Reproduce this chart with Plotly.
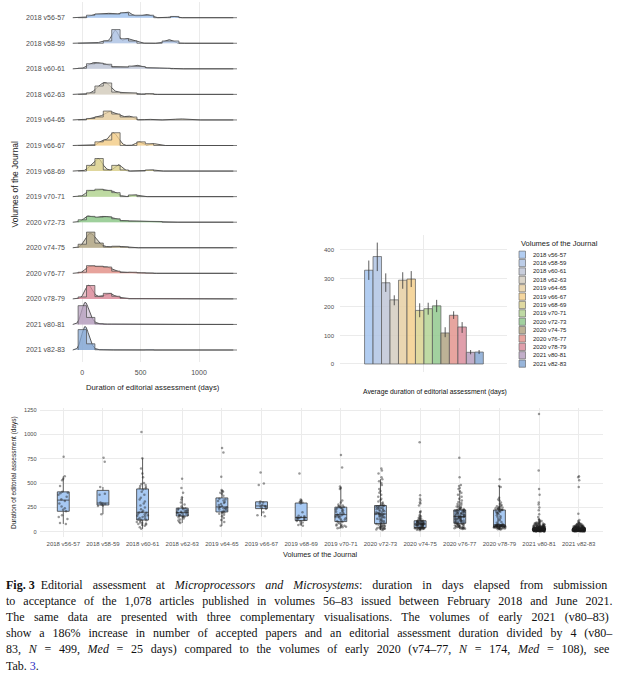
import numpy as np
import plotly.graph_objects as go

W, H = 620, 680

volumes = ["2018 v56-57", "2018 v58-59", "2018 v60-61", "2018 v62-63", "2019 v64-65",
           "2019 v66-67", "2019 v68-69", "2019 v70-71", "2020 v72-73", "2020 v74-75",
           "2020 v76-77", "2020 v78-79", "2021 v80-81", "2021 v82-83"]
colors = ["#a4c4ee", "#b0c4e4", "#bfc6d6", "#d4cdbf", "#e6cfa3", "#f3cf8d", "#dbd28f",
          "#b4d494", "#92c98e", "#b2a584", "#e3958e", "#db8e9c", "#b7a0bf", "#86a8d4"]

# durations of editorial assessment (days) per volume
d56 = [80, 90, 130, 150, 170, 210, 225, 240, 260, 290, 315, 335, 360, 380, 395, 400, 410, 470, 530, 545, 570, 772]
d58 = [180, 265, 270, 280, 285, 290, 300, 380, 390, 460, 720, 760]
d60 = [30, 45, 60, 70, 75, 80, 85, 90, 95, 100, 110, 118, 122, 128, 135, 140, 150, 160, 165, 170, 180, 185,
       192, 198, 202, 215, 230, 250, 270, 290, 310, 330, 350, 380, 410, 435, 445, 450, 460, 470, 480, 490,
       500, 560, 600, 650, 755, 1025]
d62 = [90, 100, 115, 125, 135, 145, 150, 155, 160, 163, 168, 172, 178, 182, 186, 190, 194, 197, 200, 205,
       210, 215, 220, 225, 230, 235, 240, 245, 260, 280, 300, 330, 355, 400, 450, 545]
d64 = [60, 100, 120, 140, 160, 175, 185, 192, 198, 205, 212, 220, 228, 235, 240, 244, 247, 250, 255, 265,
       275, 285, 295, 305, 315, 322, 330, 340, 370, 390, 400, 410, 420, 430, 565, 815, 860]
d66 = [160, 170, 200, 235, 245, 255, 260, 265, 275, 290, 300, 310, 480, 495, 610]
d68 = [60, 70, 80, 95, 105, 110, 120, 128, 132, 138, 142, 145, 147, 150, 160, 165, 200, 290, 300, 305,
       312, 320, 330, 600]
d70 = [35, 40, 45, 50, 55, 60, 65, 70, 75, 85, 95, 100, 108, 115, 122, 130, 138, 145, 150, 155, 160, 165,
       170, 173, 178, 185, 190, 198, 205, 212, 220, 228, 235, 240, 245, 250, 255, 260, 265, 270, 280, 300,
       320, 440, 450, 465, 660, 790]
d72 = [18, 22, 25, 28, 30, 32, 35, 38, 40, 43, 46, 50, 53, 56, 60, 64, 68, 72, 76, 80,
       86, 92, 98, 104, 110, 116, 122, 128, 134, 140, 146, 150, 155, 160, 165, 170, 174, 177, 179, 181,
       184, 188, 192, 196, 200, 205, 210, 215, 220, 225, 230, 235, 240, 245, 250, 254, 258, 261, 264, 267,
       272, 280, 290, 300, 310, 325, 340, 360, 380, 400, 420, 440, 480, 500, 520, 540, 560, 600, 630, 650]
d74 = [15, 20, 24, 27, 29, 31, 33, 34, 35, 36, 36, 37, 37, 38, 38, 39, 39,
       42, 46, 50, 54, 57, 60, 62, 64, 66, 68, 70, 72, 73, 74, 75, 76, 78, 79,
       80, 82, 84, 86, 88, 90, 92, 94, 96, 98, 100, 102, 104, 106, 108, 110, 111, 113,
       118, 125, 130, 135, 140, 150, 160, 170, 200, 210, 270, 290, 300, 320, 340, 375, 920]
d76 = [28, 30, 32, 34, 36, 38, 40, 42, 44, 46, 48, 50, 52, 55, 58, 60, 63, 66, 69, 72, 75, 78, 80, 83, 85,
       88, 92, 95, 98, 101, 104, 107, 110, 113, 116, 119, 122, 125, 128, 131, 134, 137, 140, 143, 146, 148,
       150, 152, 153, 154,
       157, 160, 163, 166, 169, 172, 175, 178, 181, 184, 187, 190, 193, 196, 199, 202, 205, 208, 211, 214,
       216, 218, 220, 221, 222,
       226, 230, 234, 238, 243, 248, 254, 260, 268, 276, 285, 295, 305, 320, 340, 360, 380, 400, 420, 440,
       450, 470, 480, 560, 760]
d78 = [22, 25, 28, 30, 32, 34, 36, 38, 39, 40, 41, 42, 43, 44, 45, 46, 47, 48, 49, 50, 51,
       53, 54, 55, 56, 57, 58, 59, 60, 61, 62, 63, 64, 65, 65, 66, 66, 67, 67, 68, 68, 69,
       72, 78, 85, 92, 100, 110, 120, 130, 140, 150, 160, 170, 180, 190, 195, 200, 205, 210, 215, 218, 222,
       225, 228, 231, 234, 237, 240, 244, 248, 252, 256, 262, 268, 275, 285, 300, 320, 330, 350, 460, 470, 540]
# dense groups given as value / number-of-articles tables
v80_vals = [2, 5, 8, 10, 12, 14, 16, 18, 20, 22, 24, 26, 28, 30, 32, 35, 38, 40, 44, 48, 52, 56, 60, 65, 70,
            75, 80, 85, 90, 95, 100, 110, 120, 130, 150, 180, 220, 250, 280, 300, 380, 440, 630, 1210]
v80_counts = [3, 6, 8, 10, 12, 14, 14, 14, 14, 13, 13, 12, 11, 10, 9, 9, 8, 7, 7, 6, 5, 5, 4, 4, 3,
              3, 3, 3, 2, 2, 2, 2, 2, 1, 1, 1, 1, 1, 1, 1, 1, 1, 1, 1]
v82_vals = [2, 5, 8, 10, 12, 14, 16, 18, 20, 22, 24, 26, 28, 30, 32, 35, 38, 40, 44, 48, 52, 56, 60, 65, 70,
            75, 80, 85, 90, 100, 110, 120, 185, 460, 530, 560, 570]
v82_counts = [3, 6, 9, 11, 12, 14, 15, 15, 15, 14, 13, 12, 11, 10, 9, 9, 8, 7, 6, 5, 5, 4, 4, 3, 3,
              2, 2, 2, 2, 1, 1, 1, 1, 1, 1, 1, 1]

# bar chart: average duration and interval ends (days)
bar_mean = [329, 377, 285, 225, 294, 298, 188, 194, 204, 109, 171, 130, 41, 42]
bar_low = [295, 326, 253, 206, 264, 270, 164, 173, 182, 94, 158, 109, 34, 35]
bar_high = [363, 426, 318, 241, 322, 326, 213, 215, 225, 129, 185, 147, 49, 49]

caption_prefix = ["<b>Fig. 3</b>&nbsp;&nbsp;", "", "", "", "", ""]
caption_lines = [
    "Editorial assessment at <i>Microprocessors and Microsystems</i>: duration in days elapsed from submission",
    "to acceptance of the 1,078 articles published in volumes 56–83 issued between February 2018 and June 2021.",
    "The same data are presented with three complementary visualisations. The volumes of early 2021 (v80–83)",
    "show a 186% increase in number of accepted papers and an editorial assessment duration divided by 4 (v80–",
    "83, <i>N</i> = 499, <i>Med</i> = 25 days) compared to the volumes of early 2020 (v74–77, <i>N</i> = 174, <i>Med</i> = 108), see",
    "Tab. <span style='color:#2b2bc4'>3</span>.",
]
caption_word_spacing = [7.05, 5.0, 6.25, 4.95, 4.7, 0]

# ---------------------------------------------------------------------------
samples = [np.array(d, float) for d in (d56, d58, d60, d62, d64, d66, d68, d70, d72, d74, d76, d78)]
samples.append(np.repeat(np.array(v80_vals, float), v80_counts))
samples.append(np.repeat(np.array(v82_vals, float), v82_counts))


def rgba(hexc, a):
    h = hexc.lstrip("#")
    return "rgba(%d,%d,%d,%.3f)" % (int(h[0:2], 16), int(h[2:4], 16), int(h[4:6], 16), a)


def px(x):
    return x / W


def py(y):
    return 1 - y / H


FONT = "Liberation Sans, Arial, sans-serif"
TICK = "#4d4d4d"
GRID = "#ebebeb"

fig = go.Figure()

# ---------------- ridgeline (densities + histograms) ----------------
allv = np.concatenate(samples)
sd = allv.std(ddof=1)
q75, q25 = np.percentile(allv, [75, 25])
bw = 0.9 * min(sd, (q75 - q25) / 1.34) * len(allv) ** -0.2
grid = np.linspace(allv.min() - 3 * bw, allv.max() + 3 * bw, 600)
binw = 72
edges = np.arange(-36, grid[-1] + binw, binw)


def kde(v):
    z = (grid[:, None] - v[None, :]) / bw
    return np.exp(-0.5 * z ** 2).sum(1) / (len(v) * bw * np.sqrt(2 * np.pi))


dens = [kde(s) for s in samples]
hists = [np.histogram(s, bins=edges)[0] / (len(s) * binw) for s in samples]
S = 0.92 / max(d.max() for d in dens)

n = len(volumes)
for k in range(n):
    base = n - 1 - k
    yd = base + dens[k] * S
    fig.add_trace(go.Scatter(
        x=np.concatenate([[grid[0]], grid, [grid[-1]]]),
        y=np.concatenate([[base], yd, [base]]),
        mode="lines", fill="toself", fillcolor=rgba(colors[k], 0.5),
        line=dict(color="#333333", width=0.8), hoverinfo="skip", showlegend=False,
        xaxis="x", yaxis="y"))
    xs, ys = [edges[0]], [base]
    for i, h in enumerate(hists[k]):
        xs += [edges[i], edges[i + 1]]
        ys += [base + h * S, base + h * S]
    xs.append(edges[-1])
    ys.append(base)
    fig.add_trace(go.Scatter(
        x=xs, y=ys, mode="lines", fill="toself", fillcolor=rgba(colors[k], 0.75),
        line=dict(color="#4a4a4a", width=0.7), hoverinfo="skip", showlegend=False,
        xaxis="x", yaxis="y"))

# ---------------- bar chart ----------------
bw_bar = 0.9 / n
bar_x = [1 + (k - (n - 1) / 2) * bw_bar for k in range(n)]
fig.add_trace(go.Bar(
    x=bar_x, y=bar_mean, width=bw_bar,
    marker=dict(color=[rgba(c, 0.85) for c in colors], line=dict(color="#5a5a5a", width=0.7)),
    error_y=dict(type="data", symmetric=False,
                 array=[h - m for h, m in zip(bar_high, bar_mean)],
                 arrayminus=[m - l for m, l in zip(bar_mean, bar_low)],
                 color="#333333", thickness=0.8, width=0),
    hoverinfo="skip", showlegend=False, xaxis="x2", yaxis="y2"))

# ---------------- box plot with points ----------------
fig.add_trace(go.Box(
    x=np.repeat(volumes, [len(s) for s in samples]), y=allv,
    boxpoints="all", jitter=1.0, pointpos=0, width=0.3, whiskerwidth=0,
    fillcolor="rgba(160,196,242,0.92)", line=dict(color="#3a3a3a", width=0.8),
    marker=dict(size=2.5, color="rgba(30,30,30,0.45)"),
    hoverinfo="skip", showlegend=False, xaxis="x3", yaxis="y3"))

# ---------------- axes ----------------
ridge_px_per_day = 0.1167
fig.update_layout(
    width=W, height=H, margin=dict(l=0, r=0, t=0, b=0),
    paper_bgcolor="white", plot_bgcolor="white", showlegend=False,
    font=dict(family=FONT, color="#222"),
    xaxis=dict(domain=[px(70), px(237)], range=[(70 - 82.3) / ridge_px_per_day, (237 - 82.3) / ridge_px_per_day],
               tickvals=[0, 500, 1000], showgrid=True, gridcolor=GRID, gridwidth=0.8, zeroline=False,
               showline=False, ticks="", tickfont=dict(size=7, color=TICK, family=FONT),
               ticklabelstandoff=5, anchor="y"),
    yaxis=dict(domain=[py(362), py(2)], range=[-12 / 25.56, 13 + 15.7 / 25.56],
               tickvals=list(range(n)), ticktext=volumes[::-1], showgrid=False, zeroline=False,
               ticks="", tickfont=dict(size=7, color=TICK, family=FONT), ticklabelstandoff=4, anchor="x"),
    xaxis2=dict(domain=[px(340), px(506.7)], range=[0.364, 1.627], tickvals=[1], ticktext=[""],
                showgrid=True, gridcolor=GRID, gridwidth=0.8, zeroline=False, ticks="", anchor="y2"),
    yaxis2=dict(domain=[py(372), py(235)], range=[-28.1, 452.6], tickvals=[0, 100, 200, 300, 400],
                showgrid=True, gridcolor=GRID, gridwidth=0.8, zeroline=False, ticks="",
                tickfont=dict(size=6, color=TICK, family=FONT), ticklabelstandoff=5, anchor="x2"),
    xaxis3=dict(domain=[px(39.5), px(602.5)], type="category", categoryorder="array", categoryarray=volumes,
                range=[-0.6, 13.6], showgrid=True, gridcolor=GRID, gridwidth=0.8, zeroline=False, ticks="",
                tickfont=dict(size=6, color=TICK, family=FONT), ticklabelstandoff=2, anchor="y3"),
    yaxis3=dict(domain=[py(537), py(408)], range=[-54.5, 1272.6], tickvals=[0, 250, 500, 750, 1000, 1250],
                showgrid=True, gridcolor=GRID, gridwidth=0.8, zeroline=False, ticks="",
                tickfont=dict(size=5.6, color=TICK, family=FONT), ticklabelstandoff=2, anchor="x3"),
)

ann = []
shapes = []


def text(x, y, t, size, color="#222", xanchor="center", angle=0, family=FONT, yanchor="middle"):
    ann.append(dict(x=px(x), y=py(y), xref="paper", yref="paper", text=t, showarrow=False,
                    xanchor=xanchor, yanchor=yanchor, textangle=angle,
                    font=dict(size=size, color=color, family=family)))


# axis titles
text(15, 184.5, "Volumes of the Journal", 8.5, angle=-90)
text(153, 387, "Duration of editorial assessment (days)", 7.7)
text(435, 392, "Average duration of editorial assessment (days)", 6.8, color="#111")
text(14, 473, "Duration of editorial assessment (days)", 6.5, angle=-90)
text(320.5, 554, "Volumes of the Journal", 7.3)

# legend of the bar chart
text(519, 243.7, "Volumes of the Journal", 7.5, xanchor="left")
for k in range(n):
    yc = 254.7 + k * 8.38
    shapes.append(dict(type="rect", xref="paper", yref="paper",
                       x0=px(519), x1=px(525.5), y0=py(yc + 3.6), y1=py(yc - 3.6),
                       fillcolor=rgba(colors[k], 0.85), line=dict(color="#5a5a5a", width=0.6)))
    text(531, yc, volumes[k], 6, xanchor="left")

# caption (justified lines via word spacing)
for i, line in enumerate(caption_lines):
    t = line
    if caption_word_spacing[i]:
        t = "<span style='word-spacing:%.2fpx'>%s</span>" % (caption_word_spacing[i], line)
    text(4, 585 + i * 16.1, caption_prefix[i] + t, 12, color="#111", xanchor="left",
         family="Liberation Serif, Times New Roman, serif")

fig.update_layout(annotations=ann, shapes=shapes)

fig.write_html("out.html", config={"displayModeBar": False},
               post_script="document.body.style.margin='0';document.body.style.overflow='hidden';")
